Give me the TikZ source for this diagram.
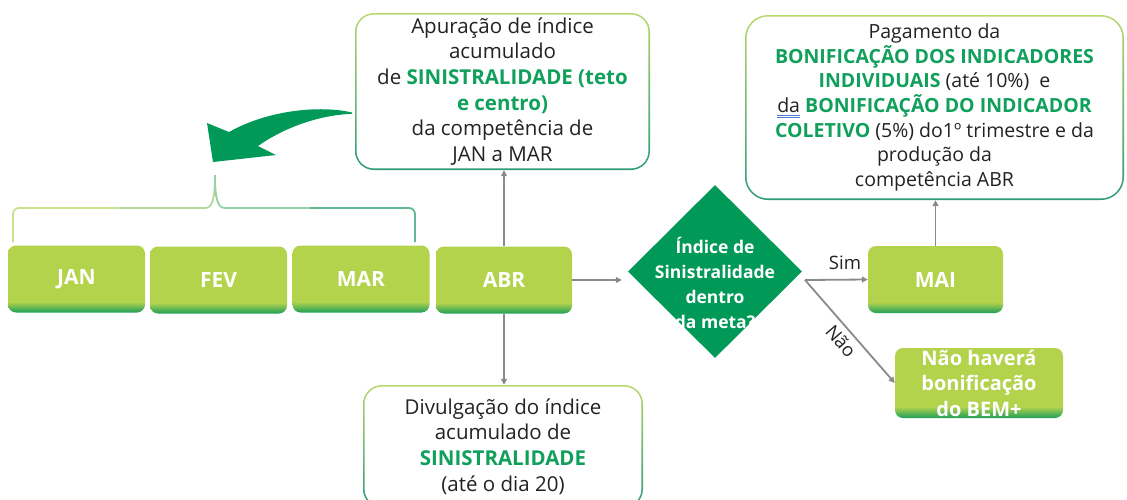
\documentclass[tikz,border=0pt]{standalone}
\usepackage{fontspec}
\setmainfont{Open Sans}
\usetikzlibrary{arrows.meta,shapes.geometric}
\definecolor{clime}{HTML}{B3D34C}
\definecolor{cdgreen}{HTML}{1E9E5A}
\definecolor{cdia}{HTML}{009958}
\definecolor{cgtext}{HTML}{10A05C}
\definecolor{cblime}{HTML}{B8D86C}
\definecolor{cbteal}{HTML}{2C9A78}
\definecolor{cgrey}{HTML}{8A8A8A}
\definecolor{ctext}{HTML}{222222}
\definecolor{cublue}{HTML}{4A7BD0}
\definecolor{cbr1}{HTML}{C8E28E}
\definecolor{cbr2}{HTML}{B2DA9C}
\definecolor{cbr3}{HTML}{96D0A6}
\definecolor{cbr4}{HTML}{62B892}
\pgfdeclareverticalshading{limebox}{100bp}{color(0bp)=(cdgreen); color(25bp)=(cdgreen); color(33bp)=(clime); color(100bp)=(clime)}
\pgfdeclareverticalshading{bordershade}{100bp}{color(0bp)=(cbteal); color(25bp)=(cbteal); color(75bp)=(cblime); color(100bp)=(cblime)}
\newcommand\grn[1]{\textcolor{cgtext}{\bfseries #1}}
\newcommand\dblu[1]{\setbox0\hbox{#1}\rlap{\textcolor{cublue}{\rule[-3pt]{\wd0}{0.7pt}}}\rlap{\textcolor{cublue}{\rule[-5pt]{\wd0}{0.7pt}}}\box0\relax}
\tikzset{
  mbox/.style={shade, shading=limebox, rounded corners=8pt, minimum width=137pt,
    minimum height=67pt, inner sep=0pt, text=white, align=center,
    font=\fontsize{21}{25.5}\selectfont\bfseries},
  wbox/.style={rounded corners=#1, text=ctext, align=center, inner sep=0pt,
    font=\fontsize{20.5}{25.7}\selectfont,
    path picture={
      \shade[shading=bordershade] (path picture bounding box.south west) rectangle (path picture bounding box.north east);
      \fill[white, rounded corners=#1-1.5pt] ([shift={(1.6pt,1.6pt)}]path picture bounding box.south west) rectangle ([shift={(-1.6pt,-1.6pt)}]path picture bounding box.north east);
    }},
  conn/.style={draw=cgrey, line width=1.8pt, -{Triangle[length=6pt,width=6pt]}},
  lbl/.style={text=ctext, inner sep=1pt, font=\fontsize{18.5}{20}\selectfont},
}
\begin{document}
\begin{tikzpicture}[x=1pt,y=-1pt]
\useasboundingbox (0,0) rectangle (1127,499);
\clip (0,0) rectangle (1127,499);

% big curved arrow
\fill[cdia] (352,112.5) .. controls (320,105) and (268,110) .. (229,132)
  -- (207,123) -- (213,162) -- (276,155) -- (258,146)
  .. controls (285,127) and (320,115) .. (352,113.8) -- cycle;

% brace
\draw[cbr1, line width=1.8pt] (13,242) -- (13,214) arc[start angle=180, end angle=270, radius=6] -- (120,208);
\draw[cbr2, line width=1.8pt] (120,208) -- (205,208) .. controls (212,208) and (215,200) .. (215,175);
\draw[cbr3, line width=1.8pt] (215,175) .. controls (215,200) and (218,208) .. (225,208) -- (310,208);
\draw[cbr4, line width=1.8pt] (310,208) -- (409,208) arc[start angle=270, end angle=360, radius=6] -- (415,242);

% month boxes
\node[mbox] (jan) at (76.5,279) {JAN};
\node[mbox] (fev) at (218.5,280) {FEV};
\node[mbox] (mar) at (361,279) {MAR};
\node[mbox, minimum width=136pt] (abr) at (504,280) {ABR};
\node[mbox, minimum width=135pt] (mai) at (935.5,279.5) {MAI};
\node[mbox, minimum width=168pt, minimum height=70pt, font=\fontsize{20}{25.5}\selectfont\bfseries] (nao) at (979,383) {Não haverá\\bonificação\\do BEM+};

% diamond
\node[diamond, fill=cdia, minimum width=174pt, minimum height=173pt, inner sep=0pt,
  label={[text=white, align=center, font=\fontsize{17.5}{25}\selectfont\bfseries, yshift=-11pt]center:{Índice de\\Sinistralidade\\dentro\\da meta?}}] (dia) at (715,271.5) {};

% white boxes
\node[wbox=19pt, minimum width=295pt, minimum height=157pt] (apur) at (502.5,91.5)
  {Apuração de índice\\acumulado\\de \grn{SINISTRALIDADE (teto}\\\grn{e centro)}\\da competência de\\JAN a MAR};
\node[wbox=23pt, minimum width=379pt, minimum height=185pt, font=\fontsize{19.5}{24.7}\selectfont] (pag) at (934.5,107.5)
  {Pagamento da\\\grn{BONIFICAÇÃO DOS INDICADORES}\\\grn{INDIVIDUAIS} (até 10\%)~ e\\\dblu{da} \grn{BONIFICAÇÃO DO INDICADOR}\\\grn{COLETIVO} (5\%) do1º trimestre e da\\produção da\\competência ABR};
\node[wbox=19pt, minimum width=280pt, minimum height=123pt] (div) at (503,446.5)
  {Divulgação do índice\\acumulado de\\\grn{SINISTRALIDADE}\\(até o dia 20)};

% connectors
\coordinate (split) at (805,280);
\draw[conn] (abr.north) -- (abr.north |- apur.south);
\draw[conn] (abr.south) -- (abr.south |- div.north);
\draw[conn] (abr.east) -- ([xshift=-6pt]dia.west |- abr.east);
\draw[conn] (split) -- (mai.west);
\draw[conn] (split) -- (nao.west);
\draw[conn] (mai.north) -- (mai.north |- pag.south);

% labels
\node[lbl] (simlbl) at (845,263) {Sim};
\node[lbl, rotate=-49] (naolbl) at (841,341) {Não};
\end{tikzpicture}
\end{document}
